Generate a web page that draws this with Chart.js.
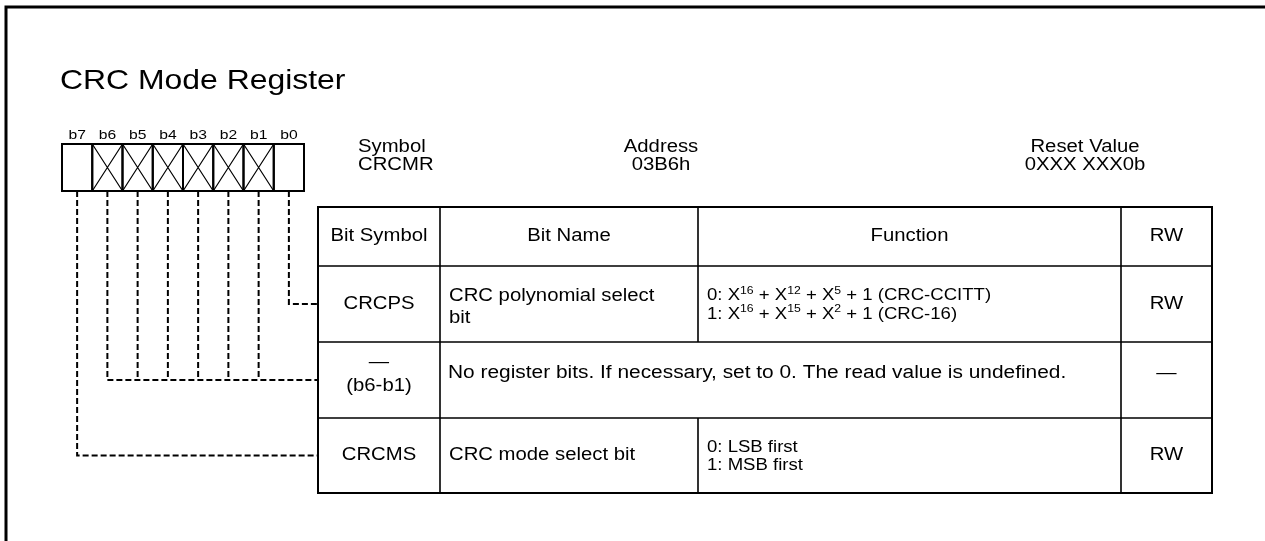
<!DOCTYPE html>
<html>
<head>
<meta charset="utf-8">
<title>CRC Mode Register</title>
<script src="https://cdn.jsdelivr.net/npm/chart.js@4"></script>
<style>
  html, body { margin: 0; padding: 0; background: #fff; }
  canvas { display: block; }
</style>
</head>
<body>
<canvas id="regChart" width="1265" height="541"></canvas>
<script>
/* ── Data ── */
const titleText    = 'CRC Mode Register';
const bitLabels    = ['b7', 'b6', 'b5', 'b4', 'b3', 'b2', 'b1', 'b0'];
const reservedBits = [false, true, true, true, true, true, true, false];
const infoLabels   = ['Symbol', 'Address', 'Reset Value'];
const infoValues   = ['CRCMR', '03B6h', '0XXX XXX0b'];
const columnTitles = ['Bit Symbol', 'Bit Name', 'Function', 'RW'];
const rowSymbols   = [['CRCPS'], ['—', '(b6-b1)'], ['CRCMS']];
const rowNames     = [['CRC polynomial select', 'bit'], null, ['CRC mode select bit']];
const rowFunctions = [
  ['0: X^16 + X^12 + X^5 + 1 (CRC-CCITT)', '1: X^16 + X^15 + X^2 + 1 (CRC-16)'],
  null,
  ['0: LSB first', '1: MSB first'],
];
const rowMerged    = [null, 'No register bits. If necessary, set to 0. The read value is undefined.', null];
const rowAccess    = ['RW', '—', 'RW'];
const rowBits      = [[0], [6, 5, 4, 3, 2, 1], [7]];   // which register bits feed each row

/* ── Layout (canvas units, same as scale units) ── */
const W = 1265, H = 541;
const FONT = '"Liberation Sans", Arial, sans-serif';
const STRETCH = 1.16;                       // reference text is drawn a bit wide
const box   = { x: 62, cell: 30.25, top: 144, bottom: 191, labelY: 135 };
const cols  = [318, 440, 698, 1121, 1212];
const rows  = [207, 266, 342, 418, 493];
const info  = { y1: 147, y2: 165, xs: [358, 661, 1085], align: ['left', 'center', 'center'] };

const bitX   = b => box.x + (7 - b + 0.5) * box.cell;   // b7 is leftmost
const rowMid = r => (rows[r + 1] + rows[r + 2]) / 2;

/* connectors: one dashed path per bit, built from rowBits */
const connectors = [];
rowBits.forEach((bits, r) => {
  const y = rowMid(r);
  bits.forEach((b, i) => {
    const pts = [{ x: bitX(b), y: box.bottom }, { x: bitX(b), y }];
    if (i === 0) pts.push({ x: cols[0], y });
    connectors.push(pts);
  });
});

/* ── text helpers ── */
function text(ctx, str, x, y, size, align) {
  ctx.save();
  ctx.font = `${size}px ${FONT}`;
  ctx.textAlign = align || 'left';
  ctx.textBaseline = 'middle';
  ctx.translate(x, y);
  ctx.scale(STRETCH, 1);
  ctx.fillText(str, 0, 0);
  ctx.restore();
}

function richText(ctx, str, x, y, size) {   // "X^16" -> superscript
  const parts = str.split(/\^(\d+)/);
  ctx.save();
  ctx.textBaseline = 'middle';
  ctx.translate(x, y);
  ctx.scale(STRETCH, 1);
  let cx = 0;
  parts.forEach((p, i) => {
    const sup = i % 2 === 1;
    const s = sup ? size * 0.66 : size;
    ctx.font = `${s}px ${FONT}`;
    ctx.fillText(p, cx, sup ? -size * 0.3 : 0);
    cx += ctx.measureText(p).width;
  });
  ctx.restore();
}

/* ── plugin: frame, register box, table and texts ── */
const registerPlugin = {
  id: 'registerTable',
  afterDatasetsDraw(chart) {
    const { ctx, scales: { x: sx, y: sy } } = chart;
    const px = v => sx.getPixelForValue(v);
    const py = v => sy.getPixelForValue(v);
    ctx.save();
    ctx.fillStyle = '#000';
    ctx.strokeStyle = '#000';

    // outer frame (top + left)
    ctx.lineWidth = 3;
    ctx.beginPath();
    ctx.moveTo(px(6), py(H));
    ctx.lineTo(px(6), py(7));
    ctx.lineTo(px(W), py(7));
    ctx.stroke();

    text(ctx, titleText, px(60), py(81), 27.5);

    // register bit box
    bitLabels.forEach((lbl, i) => {
      const x0 = px(box.x + i * box.cell), x1 = px(box.x + (i + 1) * box.cell);
      const y0 = py(box.top), y1 = py(box.bottom);
      text(ctx, lbl, (x0 + x1) / 2, py(box.labelY), 13.5, 'center');
      ctx.lineWidth = 2;
      ctx.strokeRect(x0, y0, x1 - x0, y1 - y0);
      if (reservedBits[i]) {
        ctx.lineWidth = 1.2;
        ctx.beginPath();
        ctx.moveTo(x0, y0); ctx.lineTo(x1, y1);
        ctx.moveTo(x1, y0); ctx.lineTo(x0, y1);
        ctx.stroke();
      }
    });

    // symbol / address / reset value
    infoLabels.forEach((lbl, i) => {
      text(ctx, lbl, px(info.xs[i]), py(info.y1), 17.5, info.align[i]);
      text(ctx, infoValues[i], px(info.xs[i]), py(info.y2), 17.5, info.align[i]);
    });

    // table grid
    ctx.lineWidth = 2;
    ctx.strokeRect(px(cols[0]), py(rows[0]), px(cols[4]) - px(cols[0]), py(rows[4]) - py(rows[0]));
    ctx.lineWidth = 1.6;
    ctx.beginPath();
    rows.slice(1, -1).forEach(r => { ctx.moveTo(px(cols[0]), py(r)); ctx.lineTo(px(cols[4]), py(r)); });
    cols.slice(1, -1).forEach((c, ci) => {
      for (let r = 0; r < rows.length - 1; r++) {
        const merged = r > 0 && rowMerged[r - 1] && ci === 1;
        if (merged) continue;
        ctx.moveTo(px(c), py(rows[r])); ctx.lineTo(px(c), py(rows[r + 1]));
      }
    });
    ctx.stroke();

    const cx = c => (px(cols[c]) + px(cols[c + 1])) / 2;
    const headY = py((rows[0] + rows[1]) / 2);
    columnTitles.forEach((t, c) => text(ctx, t, cx(c), headY, 17.5, 'center'));

    const lines = (arr, mid, lh) => arr.map((l, i) => mid + (i - (arr.length - 1) / 2) * lh);

    rowSymbols.forEach((sym, r) => {
      const mid = py(rowMid(r));
      const ys = lines(sym, mid - (sym.length > 1 ? 6 : 0), 24);
      sym.forEach((s, i) => text(ctx, s, cx(0), ys[i], 17.5, 'center'));
      if (rowNames[r]) {
        const yn = lines(rowNames[r], mid + (rowNames[r].length > 1 ? 3 : 0), 22);
        rowNames[r].forEach((s, i) => text(ctx, s, px(cols[1]) + 9, yn[i], 17.5));
      }
      if (rowFunctions[r]) {
        const yf = lines(rowFunctions[r], mid + 1, 18.5);
        rowFunctions[r].forEach((s, i) => richText(ctx, s, px(cols[2]) + 9, yf[i], 16));
      }
      if (rowMerged[r]) text(ctx, rowMerged[r], px(cols[1]) + 8, mid - 7, 18);
      text(ctx, rowAccess[r], cx(3), mid - (rowMerged[r] ? 7 : 0), 17.5, 'center');
    });
    ctx.restore();
  },
};

/* ── Chart ── */
new Chart(document.getElementById('regChart'), {
  type: 'scatter',
  data: {
    datasets: connectors.map(pts => ({
      data: pts,
      showLine: true,
      borderColor: '#000',
      borderWidth: 2,
      borderDash: [6, 3],
      pointRadius: 0,
      tension: 0,
    })),
  },
  options: {
    responsive: false,
    animation: false,
    events: [],
    layout: { padding: 0 },
    plugins: { legend: { display: false }, tooltip: { enabled: false } },
    scales: {
      x: { type: 'linear', min: 0, max: W, display: false },
      y: { type: 'linear', min: 0, max: H, reverse: true, display: false },
    },
  },
  plugins: [registerPlugin],
});
</script>
</body>
</html>
